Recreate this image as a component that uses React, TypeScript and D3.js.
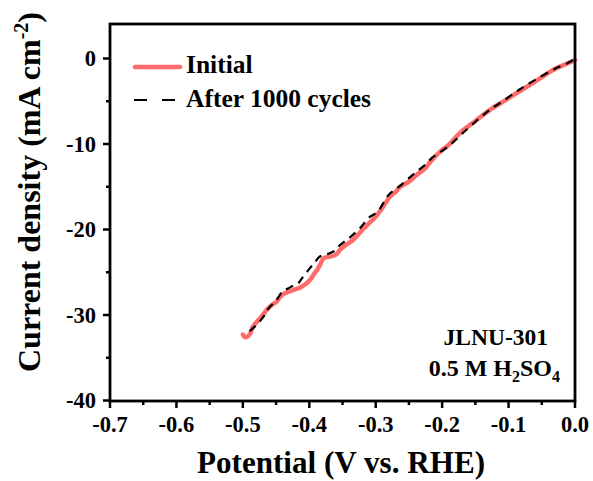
import React from "react";
import * as d3 from "d3";

const initialX = [-0.5, -0.497, -0.49, -0.485, -0.478, -0.47, -0.463, -0.456, -0.45, -0.444, -0.438, -0.432, -0.425, -0.414, -0.406, -0.399, -0.392, -0.388, -0.383, -0.379, -0.372, -0.365, -0.358, -0.354, -0.345, -0.334, -0.322, -0.309, -0.301, -0.294, -0.286, -0.279, -0.27, -0.263, -0.25, -0.238, -0.225, -0.218, -0.203, -0.19, -0.173, -0.15, -0.128, -0.105, -0.083, -0.06, -0.03, -0.015, 0];
const initialY = [-32.3, -32.6, -32.3, -31.4, -30.7, -30.0, -29.3, -28.8, -28.5, -27.9, -27.5, -27.3, -27.1, -26.8, -26.4, -25.9, -25.1, -24.7, -24.0, -23.4, -23.2, -23.1, -22.8, -22.4, -21.8, -21.2, -20.2, -19.2, -18.6, -17.9, -17.0, -16.2, -15.6, -15.0, -14.4, -13.6, -12.8, -12.1, -10.9, -10.1, -8.7, -7.3, -6.0, -4.9, -3.8, -2.7, -1.2, -0.7, -0.2];

const afterX = [-0.49, -0.48, -0.47, -0.462, -0.455, -0.448, -0.44, -0.432, -0.425, -0.418, -0.41, -0.4, -0.392, -0.385, -0.378, -0.37, -0.362, -0.355, -0.345, -0.334, -0.322, -0.31, -0.302, -0.295, -0.287, -0.28, -0.272, -0.262, -0.25, -0.238, -0.225, -0.215, -0.2, -0.185, -0.17, -0.15, -0.128, -0.105, -0.083, -0.06, -0.03, -0.01, 0];
const afterY = [-31.9, -31.2, -30.3, -29.3, -28.7, -28.1, -27.2, -26.9, -26.6, -26.4, -25.6, -24.6, -23.9, -23.2, -23.0, -22.8, -22.5, -21.9, -21.3, -20.6, -19.7, -18.6, -18.2, -17.7, -16.7, -15.9, -15.4, -14.8, -14.0, -13.2, -12.4, -11.6, -10.8, -9.9, -8.8, -7.4, -6.0, -4.8, -3.6, -2.5, -1.2, -0.5, 0];

const xTicks = [-0.7, -0.6, -0.5, -0.4, -0.3, -0.2, -0.1, 0.0];
const yTicks = [0, -10, -20, -30, -40];

export default function App() {
  const left = 110, right = 575, top = 24, bottom = 401;
  const x = d3.scaleLinear().domain([-0.7, 0]).range([left, right]);
  const y = d3.scaleLinear().domain([-40, 4]).range([400.5, 24.3]);
  const line = d3.line<[number, number]>().x(d => x(d[0])).y(d => y(d[1])).curve(d3.curveCatmullRom);
  const initData: [number, number][] = initialX.map((v, i) => [v, initialY[i]]);
  const afterData: [number, number][] = afterX.map((v, i) => [v, afterY[i]]);
  const xMinor = d3.range(-0.65, 0, 0.1);
  const yMinor = [-5, -15, -25, -35];
  const font = "'Liberation Serif', 'Times New Roman', serif";
  const red = "#FF6B6B";
  return (
    <svg width={593} height={481} style={{ position: "absolute", left: 0, top: 0 }} fontFamily={font} fontWeight="bold">
      <rect x={0} y={0} width={593} height={481} fill="#fff" />
      <path d={line(initData) || ""} fill="none" stroke={red} strokeWidth={4.5} strokeLinecap="round" strokeLinejoin="round" />
      <path d={line(afterData) || ""} fill="none" stroke="#000" strokeWidth={2.2} strokeDasharray="8,6" />
      <rect x={left} y={top} width={right - left} height={bottom - top} fill="none" stroke="#000" strokeWidth={2.8} />
      {xTicks.map(t => (
        <g key={"x" + t}>
          <line x1={x(t)} x2={x(t)} y1={bottom} y2={bottom + 7} stroke="#000" strokeWidth={2.5} />
          <text x={x(t)} y={432} textAnchor="middle" fontSize={22.5}>{t.toFixed(1)}</text>
        </g>
      ))}
      {xMinor.map(t => (
        <line key={"xm" + t} x1={x(t)} x2={x(t)} y1={bottom} y2={bottom + 4} stroke="#000" strokeWidth={2.5} />
      ))}
      {yTicks.map(t => (
        <g key={"y" + t}>
          <line x1={left - 7} x2={left} y1={y(t)} y2={y(t)} stroke="#000" strokeWidth={2.5} />
          <text x={96} y={y(t) + 7.5} textAnchor="end" fontSize={22.5}>{t}</text>
        </g>
      ))}
      {yMinor.map(t => (
        <line key={"ym" + t} x1={left - 4} x2={left} y1={y(t)} y2={y(t)} stroke="#000" strokeWidth={2.5} />
      ))}
      <text x={341} y={473} textAnchor="middle" fontSize={31} textLength={288} lengthAdjust="spacingAndGlyphs">Potential (V vs. RHE)</text>
      <text transform="translate(40,192) rotate(-90)" textAnchor="middle" fontSize={32}>
        Current density (mA cm<tspan dy={-12} fontSize={20}>-2</tspan><tspan dy={12}>)</tspan>
      </text>
      <line x1={135} x2={180} y1={67} y2={67} stroke={red} strokeWidth={4.5} strokeLinecap="round" />
      <text x={186} y={73} fontSize={25.5}>Initial</text>
      <line x1={134} x2={176} y1={100} y2={100} stroke="#000" strokeWidth={2.2} strokeDasharray="13,15" />
      <text x={186} y={106.5} fontSize={25.5}>After 1000 cycles</text>
      <text x={548} y={345} textAnchor="end" fontSize={23.5}>JLNU-301</text>
      <text x={560} y={376} textAnchor="end" fontSize={24}>
        0.5 M H<tspan dy={6} fontSize={16}>2</tspan><tspan dy={-6}>SO</tspan><tspan dy={6} fontSize={16}>4</tspan>
      </text>
    </svg>
  );
}
